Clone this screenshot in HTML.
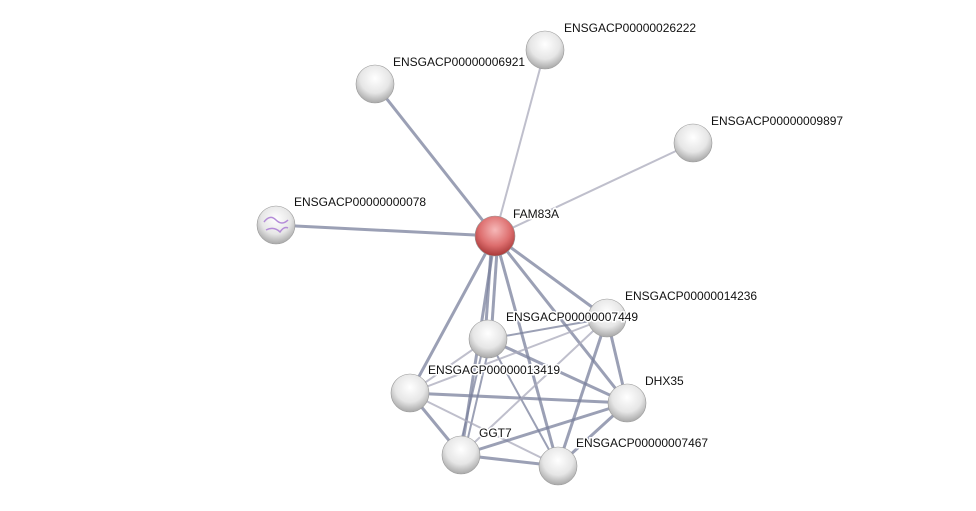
<!DOCTYPE html>
<html><head><meta charset="utf-8"><style>
body{margin:0;background:#fff;}
svg{display:block}
text{font-family:"Liberation Sans",sans-serif;font-size:12px;fill:#111;paint-order:stroke;stroke:#fff;stroke-width:3px;}
</style></head><body>
<svg width="976" height="511" viewBox="0 0 976 511">
<defs>
<radialGradient id="g" cx="50%" cy="35%" r="65%">
<stop offset="0" stop-color="#fff"/><stop offset="0.6" stop-color="#e6e6e6"/><stop offset="1" stop-color="#a8a8a8"/>
</radialGradient>
<radialGradient id="r" cx="50%" cy="35%" r="65%">
<stop offset="0" stop-color="#f6b8b8"/><stop offset="0.6" stop-color="#dd6e6e"/><stop offset="1" stop-color="#a83838"/>
</radialGradient>
</defs>
<g stroke="#7a809c" stroke-opacity="0.75" fill="none">
<line x1="495" y1="236" x2="545" y2="50" stroke-width="2" stroke="#aab"/>
<line x1="495" y1="236" x2="375" y2="84" stroke-width="3"/>
<line x1="495" y1="236" x2="693" y2="143" stroke-width="2" stroke="#aab"/>
<line x1="495" y1="236" x2="276" y2="225" stroke-width="3"/>
<line x1="495" y1="236" x2="410" y2="393" stroke-width="3"/>
<line x1="492" y1="236" x2="485" y2="339" stroke-width="3"/>
<line x1="498" y1="236" x2="491" y2="339" stroke-width="3"/>
<line x1="495" y1="236" x2="461" y2="455" stroke-width="3"/>
<line x1="495" y1="236" x2="558" y2="466" stroke-width="3"/>
<line x1="495" y1="236" x2="627" y2="403" stroke-width="3"/>
<line x1="495" y1="236" x2="607" y2="318" stroke-width="3"/>
<line x1="488" y1="339" x2="607" y2="318" stroke-width="2"/>
<line x1="488" y1="339" x2="627" y2="403" stroke-width="3"/>
<line x1="488" y1="339" x2="410" y2="393" stroke-width="2" stroke="#aab"/>
<line x1="488" y1="339" x2="558" y2="466" stroke-width="2"/>
<line x1="485" y1="339" x2="458" y2="455" stroke-width="2"/>
<line x1="491" y1="339" x2="464" y2="455" stroke-width="2"/>
<line x1="410" y1="393" x2="607" y2="318" stroke-width="2" stroke="#aab"/>
<line x1="410" y1="393" x2="627" y2="403" stroke-width="3"/>
<line x1="410" y1="393" x2="461" y2="455" stroke-width="3"/>
<line x1="410" y1="393" x2="558" y2="466" stroke-width="2" stroke="#aab"/>
<line x1="461" y1="455" x2="607" y2="318" stroke-width="2" stroke="#aab"/>
<line x1="461" y1="455" x2="627" y2="403" stroke-width="3"/>
<line x1="461" y1="455" x2="558" y2="466" stroke-width="3"/>
<line x1="607" y1="318" x2="627" y2="403" stroke-width="3"/>
<line x1="607" y1="318" x2="558" y2="466" stroke-width="3"/>
<line x1="627" y1="403" x2="558" y2="466" stroke-width="3"/>
</g>
<g stroke="#999" stroke-width="0.6">
<circle cx="545" cy="50" r="19" fill="url(#g)"/>
<circle cx="375" cy="84" r="19" fill="url(#g)"/>
<circle cx="693" cy="143" r="19" fill="url(#g)"/>
<circle cx="276" cy="225" r="19" fill="url(#g)"/>
<circle cx="607" cy="318" r="19" fill="url(#g)"/>
<circle cx="488" cy="339" r="19" fill="url(#g)"/>
<circle cx="410" cy="393" r="19" fill="url(#g)"/>
<circle cx="627" cy="403" r="19" fill="url(#g)"/>
<circle cx="461" cy="455" r="19" fill="url(#g)"/>
<circle cx="558" cy="466" r="19" fill="url(#g)"/>
<circle cx="495" cy="236" r="20" fill="url(#r)"/>
</g>
<path d="M264 222 q6 -8 12 -2 q6 6 12 0 M266 230 q8 -4 14 2 q4 -6 8 -4" stroke="#b48cd8" fill="none" stroke-width="1.5"/>
<text x="564" y="32">ENSGACP00000026222</text>
<text x="393" y="66">ENSGACP00000006921</text>
<text x="711" y="125">ENSGACP00000009897</text>
<text x="294" y="206">ENSGACP00000000078</text>
<text x="513" y="218">FAM83A</text>
<text x="625" y="300">ENSGACP00000014236</text>
<text x="506" y="321">ENSGACP00000007449</text>
<text x="428" y="374">ENSGACP00000013419</text>
<text x="645" y="385">DHX35</text>
<text x="479" y="437">GGT7</text>
<text x="576" y="447">ENSGACP00000007467</text>
</svg>
</body></html>
